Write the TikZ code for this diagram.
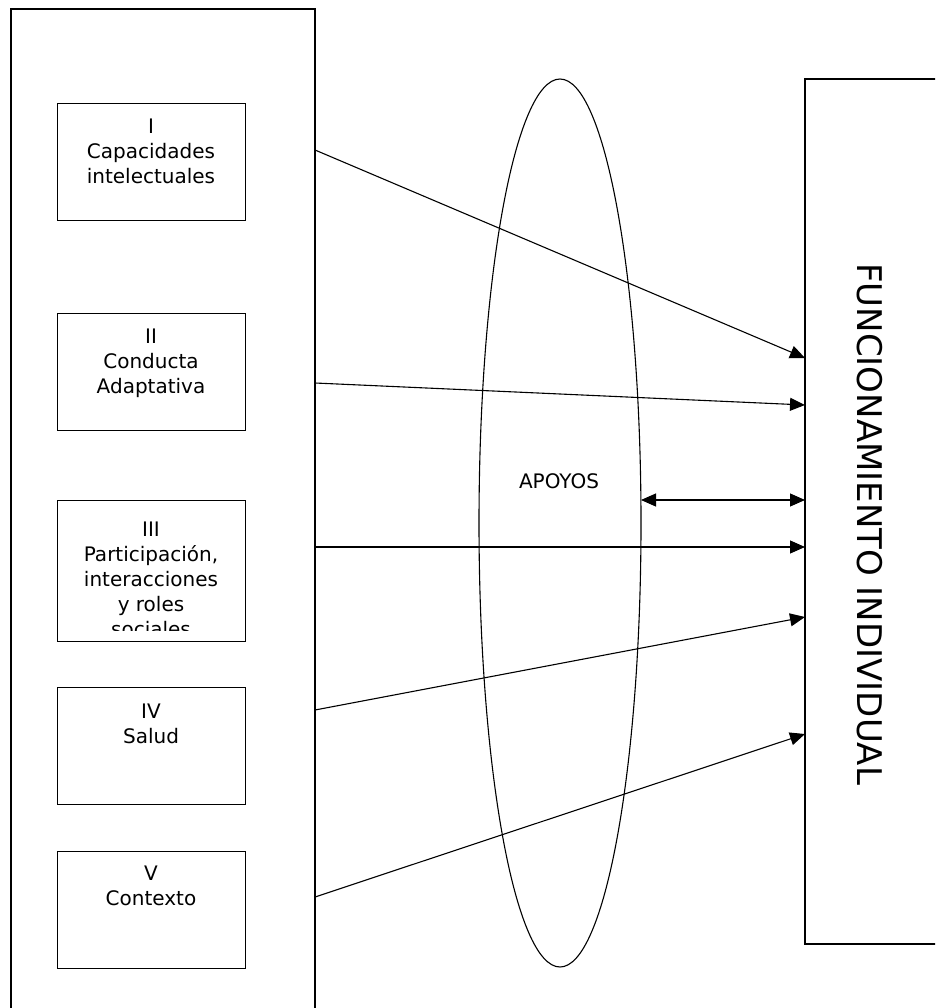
\documentclass[tikz,border=0pt]{standalone}
\usepackage{fontspec}
\setmainfont{DejaVu Sans}
\usetikzlibrary{arrows.meta,shapes.geometric}
\begin{document}
\begin{tikzpicture}[x=1pt,y=-1pt,
  frame/.style={draw=black,line width=1.1pt},
  dimbox/.style={draw=black,line width=1.1pt,minimum width=188pt,minimum height=117pt,anchor=north west,inner sep=0pt},
  dimtext/.style={align=center,anchor=north,inner sep=0pt,font=\fontsize{20}{25}\selectfont},
  arr/.style={line width=1.1pt,-{Triangle[length=15pt,width=13pt]}},
  darr/.style={line width=1.1pt,{Triangle[length=15pt,width=13pt]}-{Triangle[length=15pt,width=13pt]}}]
\useasboundingbox (0,0) rectangle (935,1008);
\clip (0,0) rectangle (935,1008);
% outer left frame
\draw[frame] (11,1030) -- (11,9) -- (315,9) -- (315,1030);
% right frame
\draw[frame] (960,79) -- (805,79) -- (805,944) -- (960,944);
\coordinate (fw) at (805,500);
% ellipse
\node[draw=black,line width=1.1pt,ellipse,minimum width=162pt,minimum height=888pt,inner sep=0pt] (ap) at (560,523) {};
\node[inner sep=0pt,anchor=base,font=\fontsize{20}{25}\selectfont] (apt) at (559,488) {APOYOS};
% boxes
\node[dimbox] (b1) at (57,103) {};
\node[dimbox] (b2) at (57,313) {};
\node[dimbox,minimum height=141pt] (b3) at (57,500) {};
\node[dimbox] (b4) at (57,687) {};
\node[dimbox] (b5) at (57,851) {};
\node[dimtext] (t1) at (151,119) {I\\Capacidades\\intelectuales};
\node[dimtext] (t2) at (151,329) {II\\Conducta\\Adaptativa};
\begin{scope}
\clip (57,500) rectangle (245,630);
\node[dimtext] (t3) at (151,522) {III\\Participación,\\interacciones\\y roles\\sociales};
\end{scope}
\node[dimtext] (t4) at (151,704) {IV\\Salud};
\node[dimtext] (t5) at (151,866) {V\\Contexto};
% vertical title
\node[rotate=-90,anchor=base west,inner sep=0pt,font=\fontsize{34}{40}\selectfont] (ft) at (857,263) {FUNCIONAMIENTO INDIVIDUAL};
% arrows
\coordinate (s1) at (315,150);
\coordinate (s2) at (315,383);
\coordinate (s3) at (315,547);
\coordinate (s4) at (315,710);
\coordinate (s5) at (315,897);
\coordinate (e1) at (805,358);
\coordinate (e2) at (805,405);
\coordinate (e3) at (805,547);
\coordinate (e4) at (805,617);
\coordinate (e5) at (805,734);
\coordinate (d1) at (641,500);
\draw[arr] (s1) -- (e1);
\draw[arr] (s2) -- (e2);
\draw[arr] (s3) -- (e3);
\draw[arr] (s4) -- (e4);
\draw[arr] (s5) -- (e5);
\draw[darr] (d1) -- (fw);
\end{tikzpicture}
\end{document}
